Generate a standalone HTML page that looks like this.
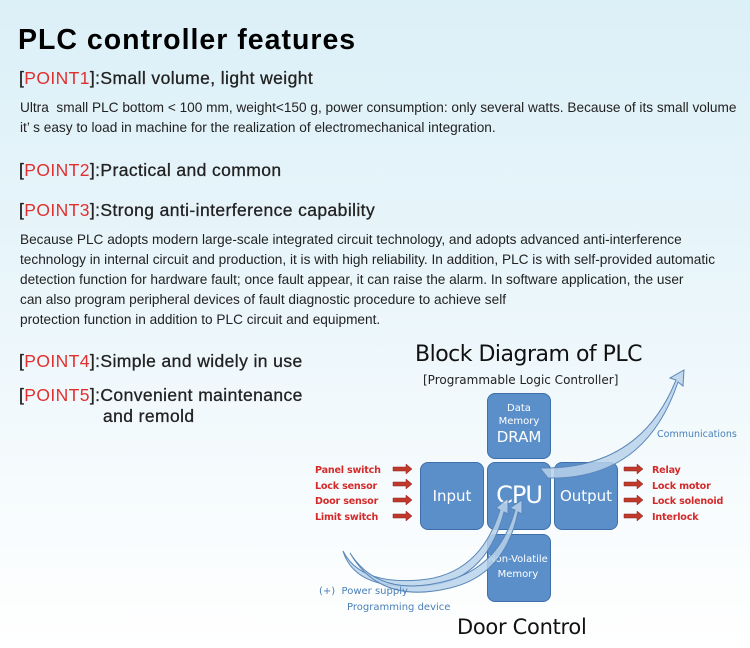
<!DOCTYPE html><html><head><style>
body{margin:0;width:750px;height:648px;overflow:hidden;background:linear-gradient(180deg,#dcf0f8 0%,#e8f5fa 40%,#f6fbfd 75%,#ffffff 100%);font-family:"Liberation Sans",sans-serif;position:relative}
.a{position:absolute;white-space:nowrap}
.h{font-size:17.5px;color:#222;letter-spacing:0.4px;-webkit-text-stroke:0.3px #222}
.h b{color:#e03030;font-weight:normal;-webkit-text-stroke:0}
.t{font-size:13.65px;color:#222;line-height:20px}
.bx{position:absolute;background:#5b8fca;border:1px solid #3f6fa8;border-radius:8px;color:#fff;text-align:center;font-family:"DejaVu Sans",sans-serif}
.r{position:absolute;font-size:9.6px;font-weight:bold;color:#d42a2a;font-family:"DejaVu Sans",sans-serif;letter-spacing:-0.2px}
</style></head><body>
<div class="a" style="left:18px;top:24px;font-size:28.5px;color:#000;font-weight:bold;letter-spacing:1px">PLC controller features</div>
<div class="a h" style="left:19px;top:68px">[<b>POINT1</b>]:Small volume, light weight</div>
<div class="a t" style="left:20px;top:98px">Ultra&nbsp; small PLC bottom &lt; 100 mm, weight&lt;150 g, power consumption: only several watts. Because of its small volume<br>it’ s easy to load in machine for the realization of electromechanical integration.</div>
<div class="a h" style="left:19px;top:160px">[<b>POINT2</b>]:Practical and common</div>
<div class="a h" style="left:19px;top:200px">[<b>POINT3</b>]:Strong anti-interference capability</div>
<div class="a t" style="left:20px;top:230px">Because PLC adopts modern large-scale integrated circuit technology, and adopts advanced anti-interference<br>technology in internal circuit and production, it is with high reliability. In addition, PLC is with self-provided automatic<br>detection function for hardware fault; once fault appear, it can raise the alarm. In software application, the user<br>can also program peripheral devices of fault diagnostic procedure to achieve self<br>protection function in addition to PLC circuit and equipment.</div>
<div class="a h" style="left:19px;top:351px">[<b>POINT4</b>]:Simple and widely in use</div>
<div class="a h" style="left:19px;top:385px">[<b>POINT5</b>]:Convenient maintenance<br><span style="padding-left:84px">and remold</span></div>

<div class="a" style="left:415px;top:342px;font-size:22px;color:#111;font-family:'DejaVu Sans',sans-serif;letter-spacing:-0.5px">Block Diagram of PLC</div>
<div class="a" style="left:423px;top:373px;font-size:12px;color:#222;font-family:'DejaVu Sans',sans-serif">[Programmable Logic Controller]</div>
<div class="bx" style="left:487px;top:393px;width:62px;height:64px;font-size:10px;line-height:13px"><div style="margin-top:8px">Data<br>Memory</div><div style="font-size:15px;line-height:18px">DRAM</div></div>
<div class="bx" style="left:420px;top:462px;width:62px;height:66px;font-size:15px;line-height:66px">Input</div>
<div class="bx" style="left:487px;top:462px;width:62px;height:66px;font-size:24px;line-height:64px;letter-spacing:-1px">CPU</div>
<div class="bx" style="left:554px;top:462px;width:62px;height:66px;font-size:15px;line-height:66px">Output</div>
<div class="bx" style="left:487px;top:534px;width:62px;height:66px;font-size:10px;line-height:15px"><div style="margin-top:17px;margin-left:-2px">Non-Volatile<br>Memory</div></div>
<div class="r" style="left:315px;top:463px;line-height:15.5px">Panel switch<br>Lock sensor<br>Door sensor<br>Limit switch</div>
<div class="r" style="left:652px;top:463px;line-height:15.5px">Relay<br>Lock motor<br>Lock solenoid<br>Interlock</div>
<svg class="a" style="left:0;top:0" width="750" height="648">
<g fill="#c0392b" stroke="#8a2222" stroke-width="0.5">
<path d="M393 467h13v-3l6 5-6 5v-3h-13z"/><path d="M393 482h13v-3l6 5-6 5v-3h-13z"/><path d="M393 498h13v-3l6 5-6 5v-3h-13z"/><path d="M393 514h13v-3l6 5-6 5v-3h-13z"/>
<path d="M624 467h13v-3l6 5-6 5v-3h-13z"/><path d="M624 482h13v-3l6 5-6 5v-3h-13z"/><path d="M624 498h13v-3l6 5-6 5v-3h-13z"/><path d="M624 514h13v-3l6 5-6 5v-3h-13z"/>
</g>
<g fill="#b8d2ea" fill-opacity="0.85" stroke="#5a86b8" stroke-width="1">
<path d="M540 468 Q640 470 676 380 L670 378 L684 370 L683 386 L678 382 Q645 480 548 478 Z"/>
<path d="M343 551 Q360 585 420 580 Q480 575 500 510 L496 508 L508 498 L508 514 L504 512 Q485 585 420 586 Q355 590 343 551 Z"/>
<path d="M350 553 Q380 600 450 580 Q500 565 515 510 L510 508 L522 500 L522 514 L518 512 Q505 575 450 588 Q380 605 350 553 Z"/>
</g>
</svg>
<div class="a" style="left:657px;top:429px;font-size:9.5px;color:#4a7fb8;font-family:'DejaVu Sans',sans-serif">Communications</div>
<div class="a" style="left:319px;top:586px;font-size:10px;color:#4a7fb8;font-family:'DejaVu Sans',sans-serif">(+)&nbsp; Power supply</div>
<div class="a" style="left:347px;top:602px;font-size:10px;color:#4a7fb8;font-family:'DejaVu Sans',sans-serif">Programming device</div>
<div class="a" style="left:457px;top:615px;font-size:21px;color:#111;font-family:'DejaVu Sans',sans-serif;letter-spacing:-0.3px">Door Control</div>
</body></html>
